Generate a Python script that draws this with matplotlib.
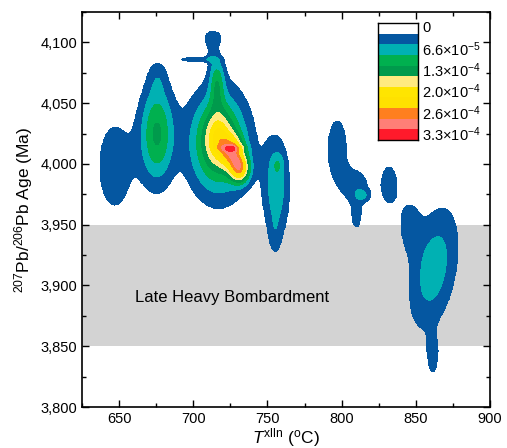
import numpy as np
import matplotlib
matplotlib.use("Agg")
import matplotlib.pyplot as plt
from matplotlib.ticker import MultipleLocator, FuncFormatter
from matplotlib.patches import Rectangle

plt.rcParams['font.family'] = ['Liberation Sans', 'DejaVu Sans']
plt.rcParams['mathtext.fontset'] = 'custom'
plt.rcParams['mathtext.rm'] = 'Liberation Sans'
plt.rcParams['mathtext.it'] = 'Liberation Sans:italic'

# ---- density model: kernel blobs (T degC, age Ma) ----
#            left  col2  col2top body  ridgeA ridgeB red   yl-tng up-tng knob  neck  spike  c756  c756g c756t  d-up  d-mid d-teal d-tail  e     f-main f-ul  f-tail
blob_x   = [647,  675.5, 676,    717,  726.5, 731.5, 726,  717,   716,   713,  712,  702,   756,  757,  755,   797,  810,  814.5, 810,   832,  862,   845.5, 861.5]
blob_y   = [3998, 4025,  4072,   4017, 4010,  3996,  4013, 4022,  4068,  4104, 4092, 4086,  3980, 4000, 3940,  4012, 3982, 3974,  3955,  3983, 3914,  3950,  3842]
blob_amp = [1.6,  4.1,   0.8,    5.0,  4.3,   5.8,   1.6,  2.5,   2.8,   1.5,  0.9,  1.6,   2.6,  1.0,  0.7,   1.6,  1.6,  1.3,   1.2,   1.5,  2.6,   1.4,   1.5]   # x 3.3e-5
blob_sx  = [10.5, 8,     4.5,    14,   5,     4.5,   6,    6,     3.5,   5,    2.5,  9,     6.5,  3,    3,     6.5,  7,    3.5,   4,     5.5,  12,    5.5,   3]
blob_sy  = [33,   29,    10,     30,   9,     8,     2,    14,    15,    5,    7,    1.6,   30,   6,    12,    24,   11,   3.5,   11,    16,   36,    16,    13]
blob_rho = [0,    0,     0,      0,    0,     0,     0,    0,     0,     0,    0,    0,     0,    0,    0,     0,    0,    0,     0,     0,    0.35,  0,     0]

level_unit = 3.3e-5
level_labels = ['0', r'6.6$\times$10$^{-5}$', r'1.3$\times$10$^{-4}$', r'2.0$\times$10$^{-4}$',
                r'2.6$\times$10$^{-4}$', r'3.3$\times$10$^{-4}$']
band_colors = ['#ffffff', '#0557a1', '#00b1b3', '#00b04f', '#009a4c', '#ffea80',
               '#ffe500', '#ffe100', '#ff7f1f', '#ff7f77', '#ff1a2b']

x_ticks = [650, 700, 750, 800, 850, 900]
y_ticks = [3800, 3850, 3900, 3950, 4000, 4050, 4100]
lhb_range = (3850, 3950)

# ---- grid ----
xg = np.linspace(625, 900, 700)
yg = np.linspace(3800, 4125, 700)
X, Y = np.meshgrid(xg, yg)
Z = np.zeros_like(X)
for mx, my, a, sx, sy, r in zip(blob_x, blob_y, blob_amp, blob_sx, blob_sy, blob_rho):
    dx = (X - mx) / sx
    dy = (Y - my) / sy
    q = (dx * dx - 2 * r * dx * dy + dy * dy) / (1 - r * r)
    Z += a * np.exp(-0.5 * q)
Z *= level_unit

levels = [level_unit * k for k in range(1, 11)] + [1.0]

fig = plt.figure(figsize=(5.07, 4.48), dpi=100)
ax = fig.add_axes([82 / 507, 1 - 407 / 448, 408 / 507, 395 / 448])
ax.axhspan(lhb_range[0], lhb_range[1], color='#d3d3d3', lw=0, zorder=0)
ax.contourf(X, Y, np.ma.masked_less(Z, level_unit), levels=levels, colors=band_colors[1:], zorder=1)
ax.text(660.5, 3890, 'Late Heavy Bombardment', fontsize=12, va='center', ha='left', zorder=3)

ax.set_xlim(625, 900)
ax.set_ylim(3800, 4125)
ax.set_xticks(x_ticks)
ax.set_yticks(y_ticks)
ax.xaxis.set_minor_locator(MultipleLocator(25))
ax.yaxis.set_minor_locator(MultipleLocator(25))
ax.yaxis.set_major_formatter(FuncFormatter(lambda v, p: f'{int(v):,}'))
ax.tick_params(which='both', direction='in', top=True, right=True, labelsize=10.5, width=1.0)
ax.tick_params(which='major', length=5)
ax.tick_params(which='minor', length=3)
for s in ax.spines.values():
    s.set_linewidth(1.2)
ax.set_xlabel(r'$T^{\mathrm{xlln}}$ ($^{\mathrm{o}}$C)', fontsize=12.5, labelpad=0)
ax.set_ylabel(r'$^{207}$Pb/$^{206}$Pb Age (Ma)', fontsize=12.5, labelpad=4)

# ---- legend box ----
lax = fig.add_axes([378 / 507, 1 - 140 / 448, 40 / 507, 117 / 448])
n = len(band_colors)
for i, c in enumerate(band_colors):
    lax.add_patch(Rectangle((0, n - 1 - i), 1, 1, color=c, lw=0))
lax.set_xlim(0, 1)
lax.set_ylim(0, n)
lax.set_xticks([])
lax.set_yticks([])
for s in lax.spines.values():
    s.set_linewidth(1.0)
for j, lab in enumerate(level_labels):
    lax.text(1.1, n - 0.5 - 2 * j, lab, fontsize=10.5, va='center', ha='left', transform=lax.transData)

fig.savefig('out.png', dpi=100)
